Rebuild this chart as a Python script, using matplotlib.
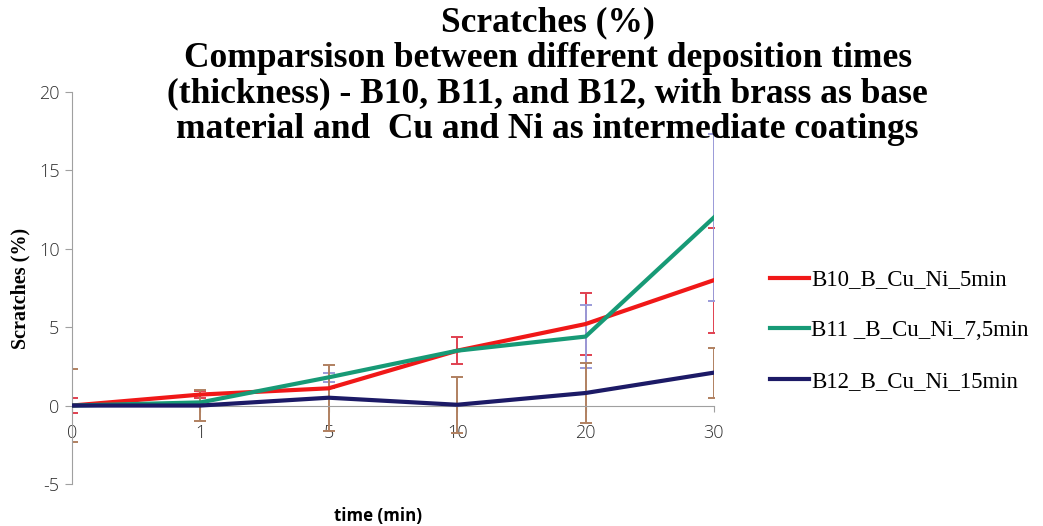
import matplotlib
matplotlib.use('Agg')
import matplotlib.pyplot as plt

plt.rcParams['axes.unicode_minus'] = False

# data
times = ['0', '1', '5', '10', '20', '30']
labels = ['B10_B_Cu_Ni_5min', 'B11 _B_Cu_Ni_7,5min', 'B12_B_Cu_Ni_15min']
b10 = [0.0, 0.7, 1.1, 3.5, 5.2, 8.0]
b11 = [0.0, 0.2, 1.8, 3.5, 4.4, 12.0]
b12 = [0.0, 0.0, 0.5, 0.05, 0.8, 2.1]
b10_err = [0.5, 0.25, 0.0, 0.85, 2.0, 3.35]
b11_err = [0.0, 0.0, 0.3, 0.0, 2.0, 5.3]
b12_err = [2.3, 1.0, 2.1, 1.8, 1.9, 1.6]

line_colors = ['#f01818', '#179a76', '#1c1a66']
err_colors = ['#e04050', '#9a9ad8', '#b08060']

fig = plt.figure(figsize=(10.43, 5.26), dpi=100)
ax = fig.add_axes([0.069, 0.080, 0.6155, 0.745])

x = list(range(len(times)))
series = [b10, b11, b12]
errs = [b10_err, b11_err, b12_err]

for vals, err, ec in zip(series, errs, err_colors):
    ax.errorbar(x, vals, yerr=err, fmt='none', ecolor=ec, elinewidth=1.4,
                capsize=4, capthick=1.4, zorder=2)
for vals, lab, c in zip(series, labels, line_colors):
    ax.plot(x, vals, color=c, lw=3, label=lab, zorder=3)

ax.set_xlim(0, 5)
ax.set_ylim(-5, 20)
ax.set_yticks([-5, 0, 5, 10, 15, 20])
ax.set_xticks(x)
ax.set_xticklabels(times)

for s in ['top', 'right']:
    ax.spines[s].set_visible(False)
ax.spines['bottom'].set_position(('data', 0))
ax.spines['left'].set_color('#a0a0a0')
ax.spines['bottom'].set_color('#a0a0a0')
ax.tick_params(axis='y', direction='out', length=5, color='#a0a0a0',
               labelsize=13, labelcolor='#303030', pad=4)
ax.tick_params(axis='x', direction='out', length=4, color='#a0a0a0',
               labelsize=13, labelcolor='#303030', pad=9)
for t in ax.get_xticklabels() + ax.get_yticklabels():
    t.set_family('Open Sans')
    t.set_fontweight('light')

ax.set_ylabel('Scratches (%)', family='Liberation Serif', fontweight='bold',
              fontsize=14.5, labelpad=6)
fig.text(0.362, 0.019, 'time (min)', family='Open Sans', fontweight='bold',
         fontsize=12.2, ha='center', va='center')

fig.text(0.525, 0.855,
         'Scratches (%)\nComparsison between different deposition times\n'
         '(thickness) - B10, B11, and B12, with brass as base\n'
         'material and  Cu and Ni as intermediate coatings',
         family='Liberation Serif', fontweight='bold', fontsize=25.5,
         ha='center', va='center', linespacing=1.1)

ax.legend(loc='center left', bbox_to_anchor=(0.738, 0.371), bbox_transform=fig.transFigure,
          frameon=False, prop={'family': 'Liberation Serif', 'size': 16.5},
          handlelength=1.7, handletextpad=0.1, labelspacing=1.3,
          borderaxespad=0, borderpad=0)

fig.savefig('out.png', dpi=100)
